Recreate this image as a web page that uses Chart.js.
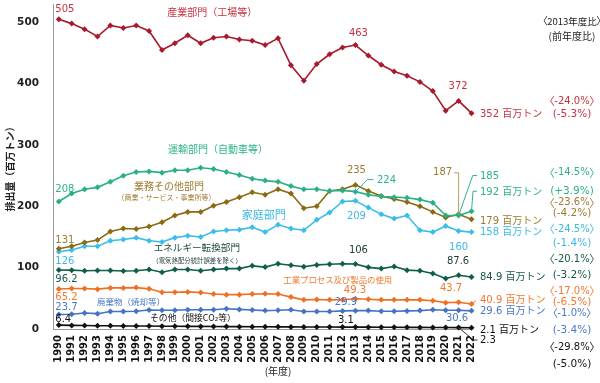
<!DOCTYPE html>
<html><head><meta charset="utf-8">
<script src="https://cdn.jsdelivr.net/npm/chart.js@4"></script>
<style>html,body{margin:0;padding:0;background:#fff}canvas{display:block}</style>
</head><body>
<canvas id="c" width="600" height="383"></canvas>
<script>
// ---- data ----
const years = [1990,1991,1992,1993,1994,1995,1996,1997,1998,1999,2000,2001,2002,2003,2004,2005,2006,2007,2008,2009,2010,2011,2012,2013,2014,2015,2016,2017,2018,2019,2020,2021,2022];
const industry   = [505,498,489,477,495,491,495,486,455,466,479,466,475,477,472,470,463,474,430,405,432,448,459,463,446,431,420,413,403,388,356,372,352];
const transport  = [208,221,228,231,240,250,256,257,255,259,259,263,261,256,251,245,242,240,233,228,228,225,226,224,219,216,215,214,211,206,185,185,192];
const commercial = [131,135,141,145,159,164,163,167,174,185,191,191,201,207,215,223,219,228,221,197,200,225,228,235,225,217,212,207,200,191,182,187,179];
const household  = [126,129,135,135,144,146,149,144,142,149,152,150,159,161,162,166,158,170,164,161,178,190,208,209,198,187,180,185,161,158,168,160,158];
const energy     = [96.2,96,95,95.5,95.5,94.5,95,97,92.5,97,97,95,97,98.5,98.5,103,101,106.5,104,101.5,104.5,105.5,106.5,106,100.5,98.5,102,96,95,90.5,82.5,87.6,84.9];
const ippu       = [65.2,66,66,65,67,67,67.5,65.5,60,60,60.5,59.5,57,56,56,57,57.5,57,52,47.5,48,47.5,47.8,49.3,48.5,47.5,47.5,47.5,47.5,46,43,43.7,40.9];
const waste      = [23.7,24,26,25,28.5,28.5,29,31,30.5,30.5,31.5,31.5,31.5,33,32,31,30,30.5,31.5,28.5,28.5,28.5,29.5,29.9,30,29,29,29.5,30,31.5,30.5,30.6,29.6];
const others     = [6.4,5.9,5.6,5.4,5.2,5.0,4.9,4.8,4.6,4.4,4.3,4.2,4.0,3.9,3.8,3.7,3.6,3.5,3.4,3.3,3.3,3.2,3.1,3.1,3.0,2.9,2.8,2.7,2.6,2.5,2.4,2.3,2.1];
const sectorNames = ['産業部門（工場等）','運輸部門（自動車等）','業務その他部門','家庭部門','エネルギー転換部門','工業プロセス及び製品の使用','廃棄物（焼却等）','その他（間接CO₂等）'];
const pct2013 = ['-24.0','-14.5','-23.6','-24.5','-20.1','-17.0','-1.0','-29.8'];
const pctPrev = ['-5.3','+3.9','-4.2','-1.4','-3.2','-6.5','-3.4','-5.0'];
const yTicks = [0,100,200,300,400,500];

// ---- styles ----
const LAT = "'DejaVu Sans', 'Noto Sans CJK JP', sans-serif";
const JP = "'Noto Sans CJK JP', 'DejaVu Sans', sans-serif";
const LINE = ['#A8192E','#2BAF87','#8B6A14','#3BBDEA','#0F5E4B','#F07022','#4472C4','#111111'];
const TXT  = ['#C8323F','#2DB38A','#9D7B2F','#3BB9E6','#17584A','#F3782F','#4A77C9','#111111'];
const series = [industry, transport, commercial, household, energy, ippu, waste, others];

function ds(data, i) {
  return { data, borderColor: LINE[i], backgroundColor: LINE[i], borderWidth: 1.6,
    pointStyle: 'rectRot', pointRadius: 3, pointBorderWidth: 0, pointBackgroundColor: LINE[i],
    tension: 0, clip: false };
}

const annot = {
  id: 'annot',
  afterDatasetsDraw(chart) {
    const ctx = chart.ctx, xs = chart.scales.x, ys = chart.scales.y;
    const X = v => xs.getPixelForValue(v), Y = v => ys.getPixelForValue(v);
    const T = (s, x, y, c, f, a) => { ctx.save(); ctx.fillStyle = c; ctx.font = f; ctx.textAlign = a || 'left'; ctx.textBaseline = 'middle'; ctx.fillText(s, x, y); ctx.restore(); };
    const L = (pts, c) => { ctx.save(); ctx.strokeStyle = c; ctx.lineWidth = 1; ctx.beginPath(); pts.forEach((p, i) => i ? ctx.lineTo(p[0], p[1]) : ctx.moveTo(p[0], p[1])); ctx.stroke(); ctx.restore(); };
    const BR = (mid, x, y, c, mf, bf) => {
      ctx.save(); ctx.font = mf; const w = ctx.measureText(mid).width; ctx.restore();
      T(mid, x, y, c, mf, 'center');
      T('〈', x - w / 2 + 0.5, y, c, bf, 'right');
      T('〉', x + w / 2 - 0.5, y, c, bf, 'left');
    };
    const F = '10px ' + LAT;
    const i13 = years.indexOf(2013), i21 = years.indexOf(2021), i22 = years.indexOf(2022), i90 = 0;
    const v = (s, i) => String(series[s][i]);
    const unit = ' 百万トン';

    // 1990 start labels
    const startDy = [-10, -12, -8.5, 9.5, 9, 8.5, -7, -6];
    for (let s = 0; s < 8; s++) T(v(s, i90), X(1990) - 3.5, Y(series[s][i90]) + startDy[s], TXT[s], F);

    // 2013 labels
    T(v(0, i13), X(2013) + 3, Y(industry[i13]) - 12, TXT[0], F, 'center');
    T(v(2, i13), X(2013) + 1, Y(commercial[i13]) - 14, TXT[2], F, 'center');
    { const px = X(2013), py = Y(transport[i13]);
      L([[px, py], [px + 12, py - 12], [px + 18, py - 12]], TXT[1]);
      T(v(1, i13), px + 21.5, py - 11.5, TXT[1], F); }
    T(v(3, i13), X(2013) + 1, Y(household[i13]) + 16, TXT[3], F, 'center');
    T(v(4, i13), X(2013) + 3, Y(energy[i13]) - 14, '#1E3A33', F, 'center');
    T(v(5, i13), X(2013) - 0.5, Y(ippu[i13]) - 8, TXT[5], F, 'center');
    T(v(6, i13), X(2013) - 9.5, Y(waste[i13]) - 8, TXT[6], F, 'center');
    T(v(7, i13), X(2013) - 9.5, Y(others[i13]) - 7, TXT[7], F, 'center');

    // 2021 labels
    T(v(0, i21), X(2021) - 0.5, Y(industry[i21]) - 14, TXT[0], F, 'center');
    { const px = X(2021), py = Y(commercial[i21]);
      L([[px, py], [px, py - 41.5], [px - 4.5, py - 41.5]], '#B89B5E');
      T(v(2, i21), px - 6.5, py - 41.5, TXT[2], F, 'right'); }
    { const px = X(2021), py = Y(transport[i21]);
      L([[px, py], [X(2022) + 1.2, py - 40], [X(2022) + 5.5, py - 40]], TXT[1]);
      T(v(1, i21), X(2022) + 8.5, py - 39.3, TXT[1], F); }
    T(v(3, i21), X(2021), Y(household[i21]) + 16.6, TXT[3], F, 'center');
    T(v(4, i21), X(2021) - 0.5, Y(energy[i21]) - 13.5, '#1E3A33', F, 'center');
    T(v(5, i21), X(2021) - 7.5, Y(ippu[i21]) - 14, TXT[5], F, 'center');
    T(v(6, i21), X(2021) - 1.5, Y(waste[i21]) + 8.5, TXT[6], F, 'center');
    { const px = X(2021), py = Y(others[i21]);
      L([[px, py], [X(2022) + 2, py + 12.4], [X(2022) + 6, py + 12.4]], '#333');
      T(v(7, i21), X(2022) + 8.5, py + 12.4, TXT[7], F); }

    // 2022 end labels
    const ex = X(2022) + 8.5;
    T(v(0, i22) + unit, ex, Y(industry[i22]) + 1.5, TXT[0], F);
    { const px = X(2022), py = Y(transport[i22]);
      L([[px, py], [px + 1.5, py - 20], [px + 5.5, py - 20]], TXT[1]);
      T(v(1, i22) + unit, ex, py - 19, TXT[1], F); }
    T(v(2, i22) + unit, ex, Y(commercial[i22]) + 2, TXT[2], F);
    T(v(3, i22) + unit, ex, Y(household[i22]), TXT[3], F);
    T(v(4, i22) + unit, ex, Y(energy[i22]), TXT[4], F);
    { const px = X(2022), py = Y(ippu[i22]);
      L([[px, py], [px + 4.5, py - 3.2]], TXT[5]);
      T(v(5, i22) + unit, ex, py - 3.2, TXT[5], F); }
    T(v(6, i22) + unit, ex, Y(waste[i22]) + 1, TXT[6], F);
    T(v(7, i22) + unit, ex, Y(others[i22]) + 2.3, TXT[7], F);

    // sector names (anchored in data space)
    T(sectorNames[0], X(2001.9), Y(517), TXT[0], '10px ' + JP, 'center');
    T(sectorNames[1], X(2002.35), Y(293), TXT[1], '10px ' + JP, 'center');
    T(sectorNames[2], X(1998.54), Y(232.7), TXT[2], '10px ' + JP, 'center');
    T('（商業・サービス・事業所等）', X(1998.35), Y(215.3), TXT[2], '7px ' + JP, 'center');
    T(sectorNames[3], X(2005.9), Y(185.5), TXT[3], '11px ' + JP, 'center');
    T(sectorNames[4], X(2000.7), Y(133.9), '#1E4A40', '9.6px ' + JP, 'center');
    T('（電気熱配分統計誤差を除く）', X(2000.72), Y(112.3), '#1E3A33', '6.4px ' + JP, 'center');
    T(sectorNames[5], X(2011.63), Y(79.7), TXT[5], '8.4px ' + JP, 'center');
    T(sectorNames[6], X(1995.6), Y(44.4), TXT[6], '8.5px ' + JP, 'center');
    T(sectorNames[7], X(2000.4), Y(19), TXT[7], '8.8px ' + JP, 'center');

    // right column
    const cx = 572, PF = '10.5px ' + LAT, MF = '10px ' + LAT, BF = '11px ' + JP;
    BR('2013年度比', cx, 21, '#222', '9.5px ' + JP, '10px ' + JP);
    T('(前年度比)', cx, 36, '#222', '10px ' + JP, 'center');
    const y1 = [101, 172.7, 202.7, 229.3, 259.3, 291, 313.3, 347.3];
    const y2 = [114.3, 191.7, 213.3, 243.3, 275.7, 302.3, 330, 364];
    for (let s = 0; s < 8; s++) {
      BR(pct2013[s] + '%', cx, y1[s], TXT[s], MF, BF);
      T('(' + pctPrev[s] + '%)', cx, y2[s], TXT[s], PF, 'center');
    }
    // x axis title
    T('(年度)', X(2007), 371, '#222', '10px ' + JP, 'center');
  }
};

new Chart(document.getElementById('c'), {
  type: 'line',
  data: { labels: years, datasets: series.map((d, i) => ds(d, i)) },
  plugins: [annot],
  options: {
    responsive: false, animation: false, devicePixelRatio: 1,
    layout: { padding: { left: 0, right: 128.5, top: 3, bottom: 0 } },
    plugins: { legend: { display: false }, tooltip: { enabled: false } },
    scales: {
      x: {
        type: 'linear', min: 1989.55, max: 2022,
        afterFit(s) { s.height = 54; s.paddingLeft = 0; s.paddingRight = 0; },
        grid: { display: false, drawTicks: false },
        border: { color: '#999', width: 1 },
        ticks: { stepSize: 1, autoSkip: false, includeBounds: false, maxRotation: 90, minRotation: 90,
          padding: 6, color: '#111', font: { family: LAT, size: 10, weight: 'bold' },
          callback: v => String(v) }
      },
      y: {
        min: 0, max: 530,
        afterFit(s) { s.width = 53; s.paddingTop = 0; s.paddingBottom = 0; },
        afterBuildTicks(s) { s.ticks = yTicks.map(v => ({ value: v })); },
        grid: { display: false, drawTicks: false },
        border: { color: '#999', width: 1 },
        ticks: { padding: 14, color: '#222', font: { family: LAT, size: 10.5, weight: 'bold' } },
        title: { display: true, text: '排出量（百万トン）', color: '#222',
          font: { family: JP, size: 10, weight: 'bold' }, padding: { top: 4, bottom: 0 } }
      }
    }
  }
});
</script>
</body></html>
